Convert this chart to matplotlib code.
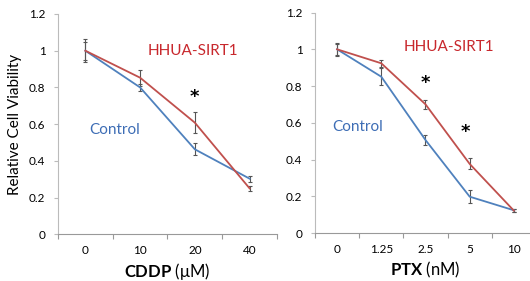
import numpy as np
import matplotlib
matplotlib.use('Agg')
import matplotlib.pyplot as plt
from matplotlib.ticker import FixedLocator, FuncFormatter

plt.rcParams['font.family'] = ['Lato', 'DejaVu Sans']
plt.rcParams['mathtext.fontset'] = 'custom'
plt.rcParams['mathtext.rm'] = 'Lato'
plt.rcParams['mathtext.bf'] = 'Lato:bold'

# values
cddp_doses = ['0', '10', '20', '40']
cddp_control = [1.0, 0.80, 0.463, 0.303]
cddp_control_err = [0.048, 0.02, 0.033, 0.016]
cddp_sirt1 = [1.0, 0.853, 0.608, 0.25]
cddp_sirt1_err = [0.063, 0.044, 0.056, 0.015]
cddp_stars = [(2, 0.75)]

ptx_doses = ['0', '1.25', '2.5', '5', '10']
ptx_control = [1.0, 0.851, 0.507, 0.199, 0.125]
ptx_control_err = [0.035, 0.047, 0.025, 0.035, 0.008]
ptx_sirt1 = [1.0, 0.924, 0.701, 0.377, 0.123]
ptx_sirt1_err = [0.03, 0.02, 0.023, 0.03, 0.008]
ptx_stars = [(2, 0.815), (2.9, 0.552)]

blue = '#4F81BD'
red = '#C0504D'
errc = '#555555'

fig = plt.figure(figsize=(5.30, 2.81), dpi=100)
ax1 = fig.add_axes([0.1094, 0.1662, 0.4132, 0.784])
ax2 = fig.add_axes([0.5943, 0.1698, 0.4170, 0.7857])


def panel(ax, doses, ctl, ctl_err, sirt, sirt_err, stars, xname, unit):
    x = np.arange(len(doses))
    ax.errorbar(x, ctl, yerr=ctl_err, color=blue, lw=1.3, ecolor=errc,
                elinewidth=0.8, capsize=1.6, capthick=0.8, zorder=3)
    ax.errorbar(x, sirt, yerr=sirt_err, color=red, lw=1.3, ecolor=errc,
                elinewidth=0.8, capsize=1.6, capthick=0.8, zorder=3)
    for sx, sy in stars:
        ax.text(sx, sy, '*', ha='center', va='center', fontsize=13,
                fontweight='bold', family='DejaVu Sans')
    ax.set_xlim(-0.5, len(doses) - 0.5)
    ax.set_ylim(0, 1.2)
    ax.set_xticks(x)
    ax.set_xticklabels(doses, fontsize=8.5)
    ax.xaxis.set_minor_locator(FixedLocator(np.arange(len(doses) + 1) - 0.5))
    ax.tick_params(axis='x', which='major', length=0, pad=8)
    ax.tick_params(axis='x', which='minor', length=3.5, color='#999999', width=0.8)
    ax.set_yticks(np.arange(0, 1.21, 0.2))
    ax.yaxis.set_major_formatter(FuncFormatter(lambda v, p: ('%.1f' % v).rstrip('0').rstrip('.') if v else '0'))
    ax.tick_params(axis='y', length=3, color='#BBBBBB', width=0.8, labelsize=8.5, pad=6)
    for s in ['top', 'right']:
        ax.spines[s].set_visible(False)
    ax.spines['left'].set_color('#BBBBBB')
    ax.spines['bottom'].set_color('#999999')
    ax.spines['left'].set_linewidth(0.8)
    ax.spines['bottom'].set_linewidth(0.8)
    ax.set_xlabel('$\\mathbf{%s}$ (%s)' % (xname, unit), fontsize=12, labelpad=3)


panel(ax1, cddp_doses, cddp_control, cddp_control_err, cddp_sirt1, cddp_sirt1_err,
      cddp_stars, 'CDDP', 'μM')
panel(ax2, ptx_doses, ptx_control, ptx_control_err, ptx_sirt1, ptx_sirt1_err,
      ptx_stars, 'PTX', 'nM')
ax1.set_ylabel('Relative Cell Viability', fontsize=11, labelpad=5)

ax1.text(1.13, 1.0, 'HHUA-SIRT1', color='#C8282D', fontsize=11, va='center')
ax1.text(0.07, 0.57, 'Control', color='#3D6DB5', fontsize=11, va='center')
ax2.text(1.5, 1.01, 'HHUA-SIRT1', color='#C8282D', fontsize=11, va='center')
ax2.text(-0.1, 0.575, 'Control', color='#3D6DB5', fontsize=11, va='center')

fig.savefig('out.png', dpi=100)
